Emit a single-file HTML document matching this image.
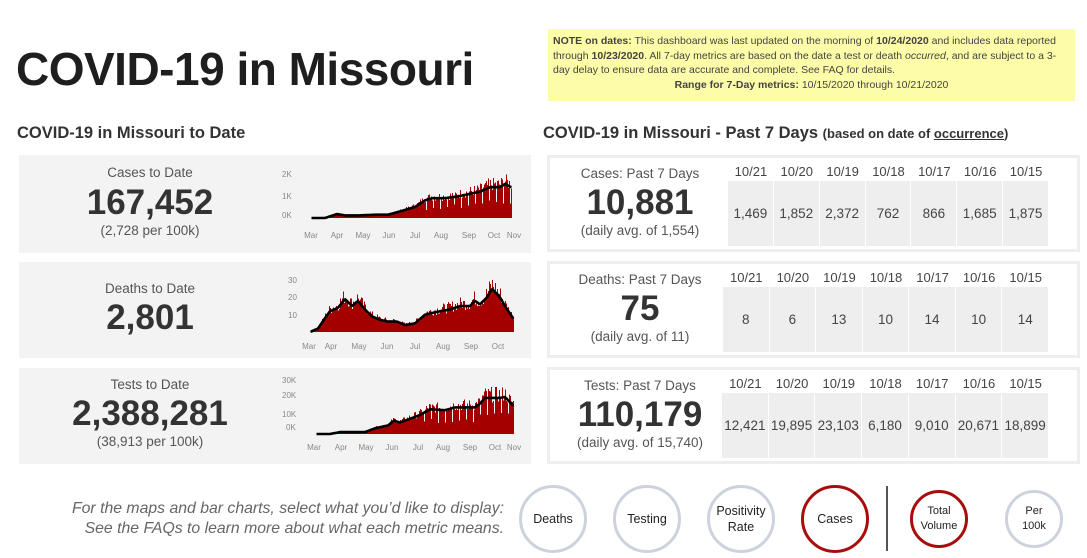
<!DOCTYPE html>
<html><head><meta charset="utf-8"><style>
*{margin:0;padding:0;box-sizing:border-box}
body{width:1087px;height:558px;background:#fff;font-family:"Liberation Sans","DejaVu Sans",sans-serif;color:#333;position:relative;overflow:hidden}
.a{position:absolute}
.title{left:16px;top:42px;font-size:46px;font-weight:bold;color:#1e1e1e;letter-spacing:-0.5px}
.h2{font-size:16.5px;font-weight:bold;color:#333}
.lp{background:#f3f3f3}
.c{text-align:center}
.lbl{font-size:13.5px;color:#555}
.big{font-size:35px;font-weight:bold;color:#333;line-height:40px}
.sub{font-size:13.5px;color:#555}
.rp{border:3px solid #eeeeee;background:#fff}
.note{left:548px;top:29px;width:527px;height:72px;background:#fdfca8;font-size:10.5px;line-height:14.5px;color:#444;padding:5px 5px}
.cell{position:absolute;background:#eeeeee;font-size:13.5px;color:#444;display:flex;align-items:center;justify-content:center}
.dh{position:absolute;font-size:13px;color:#444;text-align:center}
.circ{position:absolute;border-radius:50%;border:3px solid #ccd3dc;display:flex;align-items:center;justify-content:center;text-align:center;font-size:12.5px;color:#222;line-height:16px}
.red{border-color:#a80d0d}
.it{font-style:italic;color:#666;font-size:15.8px;text-align:right;line-height:20px}
svg text{font-family:"Liberation Sans",sans-serif;font-size:8px;fill:#888}
</style></head><body>
<div class="a title">COVID-19 in Missouri</div>
<div class="a note"><b>NOTE on dates:</b> This dashboard was last updated on the morning of <b>10/24/2020</b> and includes data reported through <b>10/23/2020</b>. All 7-day metrics are based on the date a test or death <i>occurred</i>, and are subject to a 3-day delay to ensure data are accurate and complete. See FAQ for details.<div style="text-align:center"><b>Range for 7-Day metrics:</b> 10/15/2020 through 10/21/2020</div></div>
<div class="a h2" style="left:17px;top:124px">COVID-19 in Missouri to Date</div>
<div class="a h2" style="left:543px;top:124px">COVID-19 in Missouri - Past 7 Days <span style="font-size:13px">(based on date of <u>occurrence</u>)</span></div>

<div class="a lp" style="left:19px;top:155px;width:512px;height:98px"></div>
<div class="a lp" style="left:19px;top:262px;width:512px;height:96px"></div>
<div class="a lp" style="left:19px;top:368px;width:512px;height:96px"></div>

<div class="a c" style="left:50px;top:165px;width:200px"><div class="lbl">Cases to Date</div><div class="big" style="margin-top:3px">167,452</div><div class="sub">(2,728 per 100k)</div></div>
<div class="a c" style="left:50px;top:281px;width:200px"><div class="lbl">Deaths to Date</div><div class="big" style="margin-top:2px">2,801</div></div>
<div class="a c" style="left:50px;top:377px;width:200px"><div class="lbl">Tests to Date</div><div class="big" style="margin-top:2px">2,388,281</div><div class="sub">(38,913 per 100k)</div></div>

<svg class="a" style="left:0;top:0" width="540" height="470" id="ch" shape-rendering="crispEdges">
<text x="282" y="177">2K</text><text x="282" y="199">1K</text><text x="282" y="218">0K</text>
<text x="288" y="283">30</text><text x="288" y="300">20</text><text x="288" y="318">10</text>
<text x="282" y="383">30K</text><text x="282" y="398">20K</text><text x="282" y="417">10K</text><text x="286" y="430">0K</text>
</svg>

<div class="a rp" style="left:547px;top:155px;width:533px;height:97px"></div>
<div class="a rp" style="left:547px;top:261px;width:533px;height:97px"></div>
<div class="a rp" style="left:547px;top:367px;width:533px;height:97px"></div>

<div class="a c" style="left:555px;top:166px;width:170px"><div class="lbl">Cases: Past 7 Days</div><div class="big" style="margin-top:2px">10,881</div><div class="sub">(daily avg. of 1,554)</div></div>
<div class="a c" style="left:555px;top:272px;width:170px"><div class="lbl">Deaths: Past 7 Days</div><div class="big" style="margin-top:2px">75</div><div class="sub">(daily avg. of 11)</div></div>
<div class="a c" style="left:555px;top:378px;width:170px"><div class="lbl">Tests: Past 7 Days</div><div class="big" style="margin-top:2px">110,179</div><div class="sub">(daily avg. of 15,740)</div></div>

<div id="tbl"></div>

<div class="a it" style="left:10px;top:499px;width:494px">For the maps and bar charts, select what you’d like to display:<br>See the FAQs to learn more about what each metric means.</div>
<div class="circ" style="left:519px;top:485px;width:68px;height:68px">Deaths</div>
<div class="circ" style="left:613px;top:485px;width:68px;height:68px">Testing</div>
<div class="circ" style="left:707px;top:485px;width:68px;height:68px">Positivity<br>Rate</div>
<div class="circ red" style="left:801px;top:485px;width:68px;height:68px">Cases</div>
<div class="a" style="left:886px;top:486px;width:2px;height:65px;background:#555"></div>
<div class="circ red" style="left:910px;top:490px;width:58px;height:58px;font-size:11px;line-height:15px">Total<br>Volume</div>
<div class="circ" style="left:1005px;top:490px;width:58px;height:58px;font-size:11px;line-height:15px">Per<br>100k</div>

<script>
var NS="http://www.w3.org/2000/svg",svg=document.getElementById('ch');
function el(t,a,p){var e=document.createElementNS(NS,t);for(var k in a)e.setAttribute(k,a[k]);(p||svg).appendChild(e);return e;}
var seed=7;function rnd(){seed=(seed*9301+49297)%233280;return seed/233280;}
function interp(pts,x){if(x<=pts[0][0])return pts[0][1];for(var i=1;i<pts.length;i++){if(x<=pts[i][0]){var a=pts[i-1],b=pts[i],t=(x-a[0])/(b[0]-a[0]);return a[1]+t*(b[1]-a[1]);}}return pts[pts.length-1][1];}
function chart(x0,x1,base,scale,pts,months,ly,noise,dipStart){
 var n=x1-x0,line=[];
 for(var i=0;i<n;i++){var x=x0+i,v=interp(pts,x+0.5);var bv=v*(1+noise*(rnd()*2-0.6));if(dipStart&&i%7==3&&x>dipStart)bv*=0.5;
  var h=Math.max(0,bv*scale);el('rect',{x:x,y:base-h,width:1.2,height:h,fill:'#a50000'});line.push((x+0.5)+','+(base-v*scale).toFixed(1));}
 el('polyline',{points:line.join(' '),fill:'none',stroke:'#000','stroke-width':2.6,'stroke-linejoin':'round','shape-rendering':'auto'});
 months.forEach(function(m){var t=el('text',{x:m[1],y:ly,'text-anchor':'middle'});t.textContent=m[0];});
}
chart(311,512,218,0.022,[[311,0],[325,0],[337,180],[345,120],[360,120],[375,150],[388,150],[400,300],[415,500],[425,800],[432,900],[445,900],[460,1000],[475,1150],[480,1200],[490,1400],[500,1400],[505,1550],[511,1400]],
 [["Mar",311],["Apr",337],["May",363],["Jun",389],["Jul",415],["Aug",441],["Sep",469],["Oct",494],["Nov",514]],238,0.22,420);
chart(310,514,332,1.73,[[310,0],[318,2],[325,8],[330,12],[338,14],[345,19],[352,15],[358,18],[365,13],[372,9],[380,7],[388,6],[397,6],[405,4],[415,5],[425,10],[440,12],[450,13],[460,15],[470,15],[475,18],[480,16],[487,20],[492,25],[500,20],[505,15],[513,8]],
 [["Mar",309],["Apr",331],["May",359],["Jun",387],["Jul",415],["Aug",443],["Sep",471],["Oct",498]],349,0.25,0);
chart(316,514,434,0.0019,[[316,0],[330,0],[340,1000],[365,1000],[375,3000],[388,4500],[394,7000],[400,6000],[420,10000],[430,13000],[445,12500],[455,14000],[475,14000],[480,16000],[485,19000],[500,19000],[505,19500],[513,15000]],
 [["Mar",314],["Apr",341],["May",366],["Jun",392],["Jul",418],["Aug",443],["Sep",470],["Oct",495],["Nov",514]],450,0.22,420);
var d=["10/21","10/20","10/19","10/18","10/17","10/16","10/15"];
var rows=[[155,728,["1,469","1,852","2,372","762","866","1,685","1,875"]],[261,723,["8","6","13","10","14","10","14"]],[367,722,["12,421","19,895","23,103","6,180","9,010","20,671","18,899"]]];
var T=document.getElementById('tbl'),h='';
rows.forEach(function(r){var cw=(1049-r[1])/7;for(var i=0;i<7;i++){var x=r[1]+i*cw;
 h+='<div class="dh" style="left:'+x+'px;top:'+(r[0]+9)+'px;width:'+cw+'px">'+d[i]+'</div>';
 h+='<div class="cell" style="left:'+(x)+'px;top:'+(r[0]+26)+'px;width:'+(cw-1)+'px;height:65px">'+r[2][i]+'</div>';}});
T.innerHTML=h;
</script>
</body></html>
